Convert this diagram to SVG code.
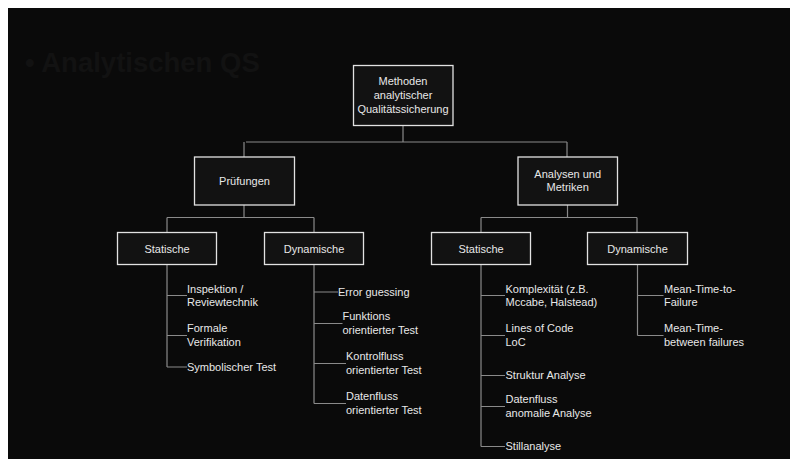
<svg xmlns="http://www.w3.org/2000/svg" width="791" height="459" viewBox="0 0 791 459">
  <style>
    .box { fill: #121212; stroke: #e2e2e2; stroke-width: 1.3; }
    .lbl { font-family: "Liberation Sans", Arial, sans-serif; font-size: 11px; fill: #e8e8e8; }
    .mid { text-anchor: middle; }
    .wire { fill: none; stroke: #8a8a8a; stroke-width: 1.2; }
    .title { font-family: "Liberation Sans", Arial, sans-serif; font-size: 27.5px; font-weight: bold; fill: #121212; }
  </style>

  <!-- page and slide background -->
  <rect x="0" y="0" width="791" height="459" fill="#ffffff"/>
  <rect x="8" y="8" width="782" height="451" fill="#0a0a0a"/>

  <text class="title" x="25" y="72">• Analytischen QS</text>

  <!-- connectors -->
  <g id="connectors" class="wire">
    <path d="M403 125.5 V142 M246 142 H567 M244 142 V157 M567 142 V157"/>
    <path d="M244 205 V217.5 M167 217.5 H314 M167 217.5 V232 M314 217.5 V232"/>
    <path d="M567.5 205 V217.5 M481 217.5 H637 M481 217.5 V232 M637 217.5 V232"/>
    <!-- Prüfungen / Statische -->
    <path d="M167 264 V367 M167 295.5 H187 M167 335.5 H187 M167 367 H187"/>
    <!-- Prüfungen / Dynamische -->
    <path d="M314 264 V403.5 M314 292 H338 M314 323.5 H342.5 M314 363.5 H346 M314 403.5 H346"/>
    <!-- Analysen / Statische -->
    <path d="M481 264 V446.5 M481 295.5 H505 M481 335.5 H505 M481 375.5 H505 M481 406.5 H505 M481 446.5 H505"/>
    <!-- Analysen / Dynamische -->
    <path d="M637.5 264 V335.5 M637.5 295.5 H663.5 M637.5 335.5 H663.5"/>
  </g>

  <g id="root">
    <rect class="box" x="353.5" y="65.5" width="99.5" height="60"/>
    <text class="lbl mid" x="403" y="85">Methoden</text>
    <text class="lbl mid" x="403" y="99">analytischer</text>
    <text class="lbl mid" x="403" y="113">Qualitätssicherung</text>
  </g>

  <g id="pruefungen">
    <rect class="box" x="194.5" y="157" width="100" height="48"/>
    <text class="lbl mid" x="244.5" y="184.5">Prüfungen</text>
  </g>

  <g id="analysen">
    <rect class="box" x="518" y="157" width="99.5" height="48"/>
    <text class="lbl mid" x="567.7" y="178">Analysen und</text>
    <text class="lbl mid" x="567.7" y="191">Metriken</text>
  </g>

  <g id="p-statische">
    <rect class="box" x="117.5" y="232.5" width="99" height="32"/>
    <text class="lbl mid" x="167" y="252.5">Statische</text>
  </g>

  <g id="p-dynamische">
    <rect class="box" x="264.5" y="232.5" width="99" height="32"/>
    <text class="lbl mid" x="314" y="252.5">Dynamische</text>
  </g>

  <g id="a-statische">
    <rect class="box" x="431.5" y="232.5" width="99" height="32"/>
    <text class="lbl mid" x="481" y="252.5">Statische</text>
  </g>

  <g id="a-dynamische">
    <rect class="box" x="587.5" y="232.5" width="100" height="32"/>
    <text class="lbl mid" x="637.5" y="252.5">Dynamische</text>
  </g>

  <!-- leaf items under Prüfungen / Statische -->
  <g id="p-statische-items">
    <text class="lbl" x="187" y="293">Inspektion /</text>
    <text class="lbl" x="187" y="306">Reviewtechnik</text>
    <text class="lbl" x="187" y="332">Formale</text>
    <text class="lbl" x="187" y="345.5">Verifikation</text>
    <text class="lbl" x="187" y="370.5">Symbolischer Test</text>
  </g>

  <!-- leaf items under Prüfungen / Dynamische -->
  <g id="p-dynamische-items">
    <text class="lbl" x="338" y="295.5">Error guessing</text>
    <text class="lbl" x="342.5" y="319.5">Funktions</text>
    <text class="lbl" x="342.5" y="333.5">orientierter Test</text>
    <text class="lbl" x="346" y="359.5">Kontrolfluss</text>
    <text class="lbl" x="346" y="373.5">orientierter Test</text>
    <text class="lbl" x="346" y="399.5">Datenfluss</text>
    <text class="lbl" x="346" y="413.5">orientierter Test</text>
  </g>

  <!-- leaf items under Analysen / Statische -->
  <g id="a-statische-items">
    <text class="lbl" x="505.5" y="292.5">Komplexität (z.B.</text>
    <text class="lbl" x="505.5" y="306">Mccabe, Halstead)</text>
    <text class="lbl" x="505.5" y="332">Lines of Code</text>
    <text class="lbl" x="505.5" y="345.5">LoC</text>
    <text class="lbl" x="505.5" y="379">Struktur Analyse</text>
    <text class="lbl" x="505.5" y="402.5">Datenfluss</text>
    <text class="lbl" x="505.5" y="416.5">anomalie Analyse</text>
    <text class="lbl" x="505.5" y="449.5">Stillanalyse</text>
  </g>

  <!-- leaf items under Analysen / Dynamische -->
  <g id="a-dynamische-items">
    <text class="lbl" x="664" y="292.5">Mean-Time-to-</text>
    <text class="lbl" x="664" y="306">Failure</text>
    <text class="lbl" x="664" y="332">Mean-Time-</text>
    <text class="lbl" x="664" y="345.5">between failures</text>
  </g>
</svg>
